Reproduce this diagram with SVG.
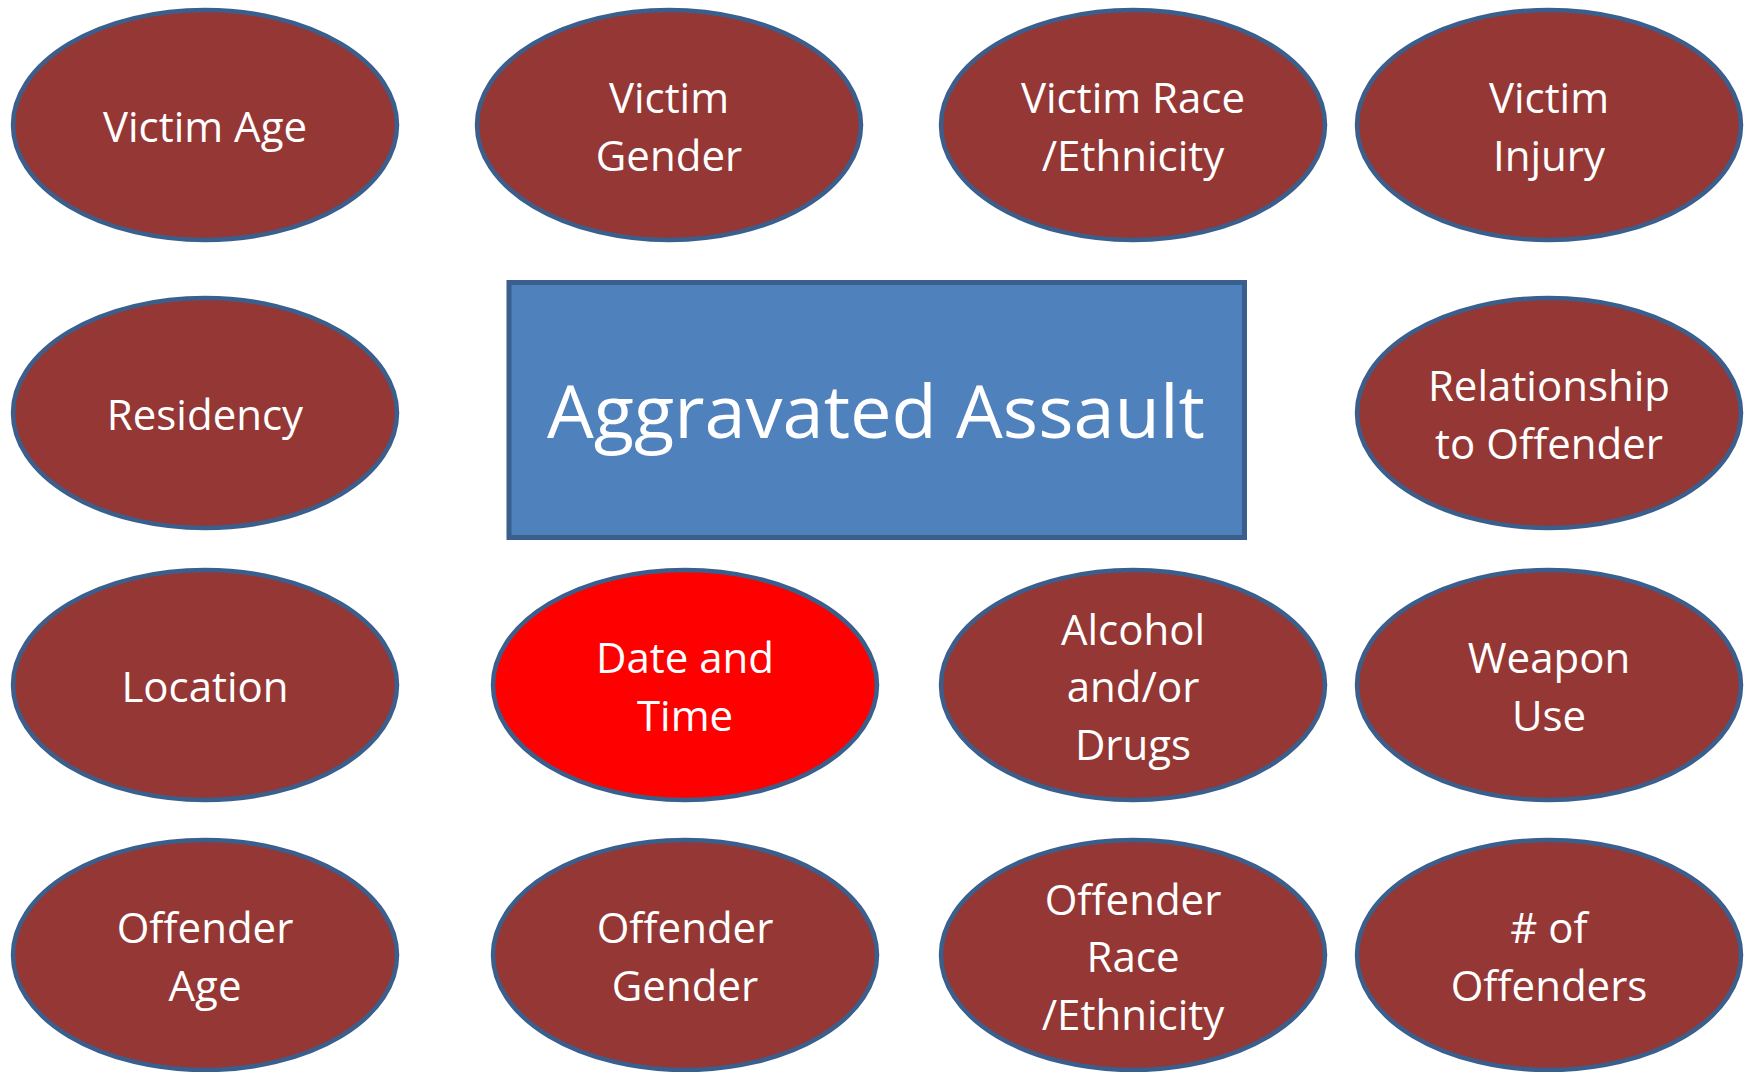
<svg xmlns="http://www.w3.org/2000/svg" width="1745" height="1072" viewBox="0 0 1745 1072">
<style>
.n{fill:#953735;stroke:#3B5F8D;stroke-width:4.5}
.r{fill:#FF0000}
.c{fill:#4F81BD;stroke:#3B5F8D;stroke-width:5}
text{font-family:"Open Sans","Noto Sans","DejaVu Sans",sans-serif;fill:#FFFFFF;text-anchor:middle;font-size:42px}
.big{font-size:74px}
</style>
<rect width="1745" height="1072" fill="#FFFFFF"/>
<g id="connectors"></g>
<g id="center"><rect class="c" x="509" y="282.5" width="735.5" height="255"/><text class="big" x="876" y="438">Aggravated Assault</text></g>
<g id="victim-age"><ellipse class="n" cx="205" cy="125" rx="192" ry="115"/><text x="205" y="142">Victim Age</text></g>
<g id="victim-gender"><ellipse class="n" cx="669" cy="125" rx="192" ry="115"/><text x="669" y="113">Victim</text><text x="669" y="170.5">Gender</text></g>
<g id="victim-race"><ellipse class="n" cx="1133" cy="125" rx="192" ry="115"/><text x="1133" y="113">Victim Race</text><text x="1133" y="170.5">/Ethnicity</text></g>
<g id="victim-injury"><ellipse class="n" cx="1549" cy="125" rx="192" ry="115"/><text x="1549" y="113">Victim</text><text x="1549" y="170.5">Injury</text></g>
<g id="residency"><ellipse class="n" cx="205" cy="413" rx="192" ry="115"/><text x="205" y="430">Residency</text></g>
<g id="relationship"><ellipse class="n" cx="1549" cy="413" rx="192" ry="115"/><text x="1549" y="401">Relationship</text><text x="1549" y="458.5">to Offender</text></g>
<g id="location"><ellipse class="n" cx="205" cy="685" rx="192" ry="115"/><text x="205" y="702">Location</text></g>
<g id="date-time"><ellipse class="n r" cx="685" cy="685" rx="192" ry="115"/><text x="685" y="673">Date and</text><text x="685" y="730.5">Time</text></g>
<g id="alcohol"><ellipse class="n" cx="1133" cy="685" rx="192" ry="115"/><text x="1133" y="644.5">Alcohol</text><text x="1133" y="702">and/or</text><text x="1133" y="759.5">Drugs</text></g>
<g id="weapon"><ellipse class="n" cx="1549" cy="685" rx="192" ry="115"/><text x="1549" y="673">Weapon</text><text x="1549" y="730.5">Use</text></g>
<g id="offender-age"><ellipse class="n" cx="205" cy="955" rx="192" ry="115"/><text x="205" y="943">Offender</text><text x="205" y="1000.5">Age</text></g>
<g id="offender-gender"><ellipse class="n" cx="685" cy="955" rx="192" ry="115"/><text x="685" y="943">Offender</text><text x="685" y="1000.5">Gender</text></g>
<g id="offender-race"><ellipse class="n" cx="1133" cy="955" rx="192" ry="115"/><text x="1133" y="914.5">Offender</text><text x="1133" y="972">Race</text><text x="1133" y="1029.5">/Ethnicity</text></g>
<g id="num-offenders"><ellipse class="n" cx="1549" cy="955" rx="192" ry="115"/><text x="1549" y="943"># of</text><text x="1549" y="1000.5">Offenders</text></g>
</svg>
